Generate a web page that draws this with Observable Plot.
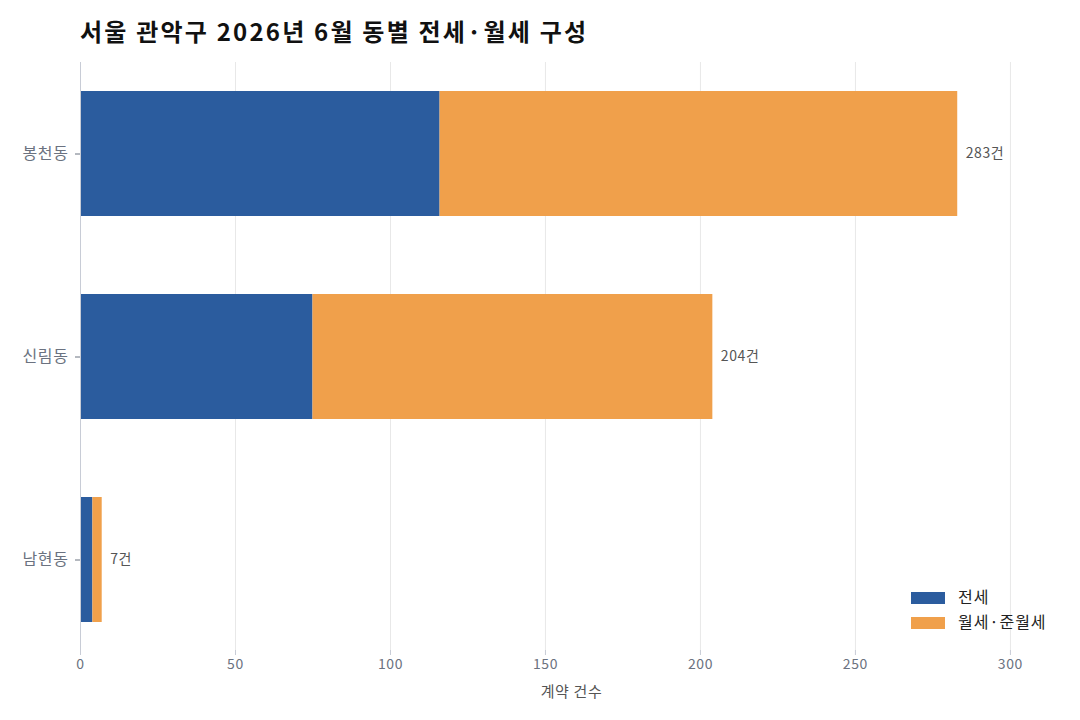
<!DOCTYPE html>
<html><head><meta charset="utf-8">
<script src="https://cdn.jsdelivr.net/npm/d3@7"></script>
<script src="https://cdn.jsdelivr.net/npm/@observablehq/plot@0.6"></script>
<style>
body{margin:0;background:#fff;font-family:"Noto Sans CJK KR","Noto Sans",sans-serif;}
#wrap{position:relative;width:1080px;height:720px;}
#title{height:60px;box-sizing:border-box;padding-left:80px;padding-top:13px;font-size:24px;letter-spacing:2.2px;font-weight:700;color:#111;}
#legend{position:absolute;left:911px;top:584px;font-size:16px;letter-spacing:1px;color:#222;line-height:25px;}
#legend .sw{display:inline-block;width:34px;height:12px;margin-right:13px;vertical-align:-1px;}
svg text{letter-spacing:0.6px;}
</style></head>
<body><div id="wrap"><div id="title">서울 관악구 2026년 6월 동별 전세·월세 구성</div><div id="chart"></div><div id="legend"></div></div>
<script>
const dongs = ["봉천동", "신림동", "남현동"];
const jeonse = [116, 75, 4];
const wolse = [167, 129, 3];
const types = ["전세", "월세·준월세"];
const colors = ["#2b5c9e", "#f0a04b"];
const xTicks = [0, 50, 100, 150, 200, 250, 300];

const rows = [];
dongs.forEach((d, i) => {
  rows.push({dong: d, type: types[0], value: jeonse[i]});
  rows.push({dong: d, type: types[1], value: wolse[i]});
});
const totals = dongs.map((d, i) => ({dong: d, total: jeonse[i] + wolse[i]}));

const chart = Plot.plot({
  width: 1080, height: 660,
  marginTop: 2, marginBottom: 70, marginLeft: 80, marginRight: 18,
  style: {fontFamily: '"Noto Sans CJK KR","Noto Sans",sans-serif', fontSize: "14px", color: "#6b7280"},
  x: {domain: [0, 316.8], ticks: xTicks, label: null, grid: false},
  y: {domain: dongs, paddingInner: 0.386, paddingOuter: 0.138, label: null},
  color: {domain: types, range: colors},
  marks: [
    Plot.gridX(xTicks, {stroke: "#e8e8e8", strokeOpacity: 1}),
    Plot.barX(rows, Plot.stackX({y: "dong", x: "value", fill: "type", order: types})),
    Plot.text(totals, {y: "dong", x: "total", text: d => d.total + "건", textAnchor: "start", dx: 8, fill: "#555", fontSize: 14}),
    Plot.ruleX([0], {stroke: "#c8ccd6"}),
    Plot.ruleY([0], {x1: 0, x2: 316.8, stroke: "#c8ccd6"}),
    Plot.axisX({ticks: xTicks, tickSize: 5, stroke: "#c8ccd6", fill: "#6b7280", fontSize: 14, label: null, tickPadding: 4}),
    Plot.text(["계약 건수"], {frameAnchor: "bottom", dy: 46, fill: "#555", fontSize: 15}),
    Plot.axisY({tickSize: 5, stroke: "#6b7280", fill: "#6b7280", fontSize: 16, label: null, tickPadding: 7})
  ]
});
document.getElementById("chart").appendChild(chart);
const lg = document.getElementById("legend");
types.forEach((t, i) => {
  const row = document.createElement("div");
  row.innerHTML = `<span class="sw" style="background:${colors[i]}"></span>${t}`;
  lg.appendChild(row);
});
</script></body></html>
